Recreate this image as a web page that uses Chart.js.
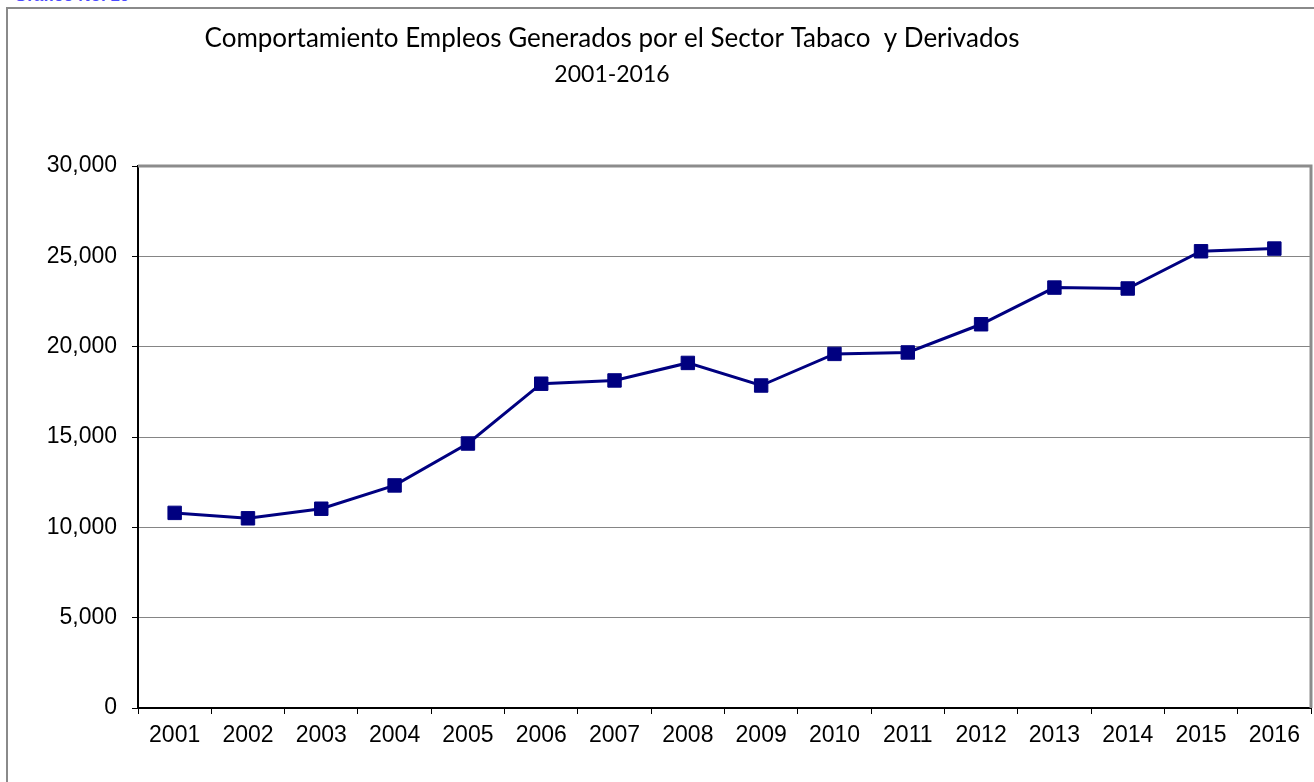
<!DOCTYPE html>
<html>
<head>
<meta charset="utf-8">
<script src="https://cdn.jsdelivr.net/npm/chart.js@4"></script>
<style>
  body { margin: 0; background: #fff; overflow: hidden; }
  #frame { position: absolute; left: 6px; top: 7px; width: 1320px; height: 800px; border: 2px solid #8a8a8a; }
  #cap { position: absolute; left: 14px; top: -14px; color: #4a4aff; font: bold 17px "Liberation Sans", Arial, sans-serif; }
  #wrap { position: absolute; left: 0; top: 0; width: 1314px; height: 782px; }
</style>
</head>
<body>
<div id="cap">Gráfico No. 10</div>
<div id="frame"></div>
<div id="wrap"><canvas id="myChart" width="1314" height="782"></canvas></div>
<script>
// datos
var years = ["2001", "2002", "2003", "2004", "2005", "2006", "2007", "2008",
             "2009", "2010", "2011", "2012", "2013", "2014", "2015", "2016"];
var empleos = [10800, 10500, 11030, 12320, 14640, 17950, 18130, 19100,
               17850, 19600, 19680, 21240, 23270, 23220, 25280, 25430];
var titleLines = ["Comportamiento Empleos Generados por el Sector Tabaco  y Derivados", "2001-2016"];

var tickFont = { family: "'Liberation Sans', Arial, sans-serif", size: 23 };

// titulo y marco del area de trazado
var extras = {
  id: "extras",
  beforeDatasetsDraw: function (chart) {
    var a = chart.chartArea;
    var ctx = chart.ctx;
    ctx.save();
    ctx.strokeStyle = "#8c8c8c";
    ctx.lineWidth = 3;
    ctx.beginPath();
    ctx.moveTo(a.left, a.top);
    ctx.lineTo(a.right, a.top);
    ctx.lineTo(a.right, a.bottom);
    ctx.stroke();
    ctx.restore();
  },
  afterDraw: function (chart) {
    var ctx = chart.ctx;
    ctx.save();
    ctx.fillStyle = "#000";
    ctx.textAlign = "center";
    ctx.textBaseline = "alphabetic";
    ctx.font = "26px Lato, 'Open Sans', sans-serif";
    ctx.fillText(titleLines[0], 612, 47);
    ctx.font = "23px Lato, 'Open Sans', sans-serif";
    ctx.fillText(titleLines[1], 612, 82);
    ctx.restore();
  }
};

var ctx = document.getElementById("myChart").getContext("2d");
var chart = new Chart(ctx, {
  type: "line",
  data: {
    labels: years,
    datasets: [
      {
        label: "Empleos",
        data: empleos,
        borderColor: "#000080",
        backgroundColor: "#000080",
        borderWidth: 3,
        pointStyle: "rect",
        pointRadius: 9.5,
        pointBorderWidth: 1,
        pointBorderColor: "#000080",
        pointBackgroundColor: "#000080",
        tension: 0,
        fill: false,
      },
    ],
  },
  options: {
    responsive: false,
    animation: false,
    layout: {
      autoPadding: false,
      padding: { left: 0, top: 166, right: 3, bottom: 0 },
    },
    plugins: {
      legend: { display: false },
      tooltip: { enabled: false },
      title: { display: false },
    },
    scales: {
      x: {
        offset: true,
        grid: {
          offset: true,
          drawOnChartArea: false,
          tickLength: 6,
          color: "#000",
        },
        border: { color: "#000", width: 2 },
        ticks: { color: "#000", font: tickFont, padding: 8, maxRotation: 0 },
        afterFit: function (s) {
          s.height = 74;
          s.paddingLeft = 0;
          s.paddingRight = 0;
        },
      },
      y: {
        min: 0,
        max: 30000,
        grid: {
          color: "#858585",
          lineWidth: 1,
          tickLength: 6,
          tickColor: "#000",
        },
        border: { color: "#000", width: 2 },
        ticks: {
          stepSize: 5000,
          color: "#000",
          font: tickFont,
          padding: 15,
          callback: function (v) { return v.toLocaleString("en-US"); },
        },
        afterFit: function (s) { s.width = 138; },
      },
    },
  },
  plugins: [extras],
});
</script>
</body>
</html>
